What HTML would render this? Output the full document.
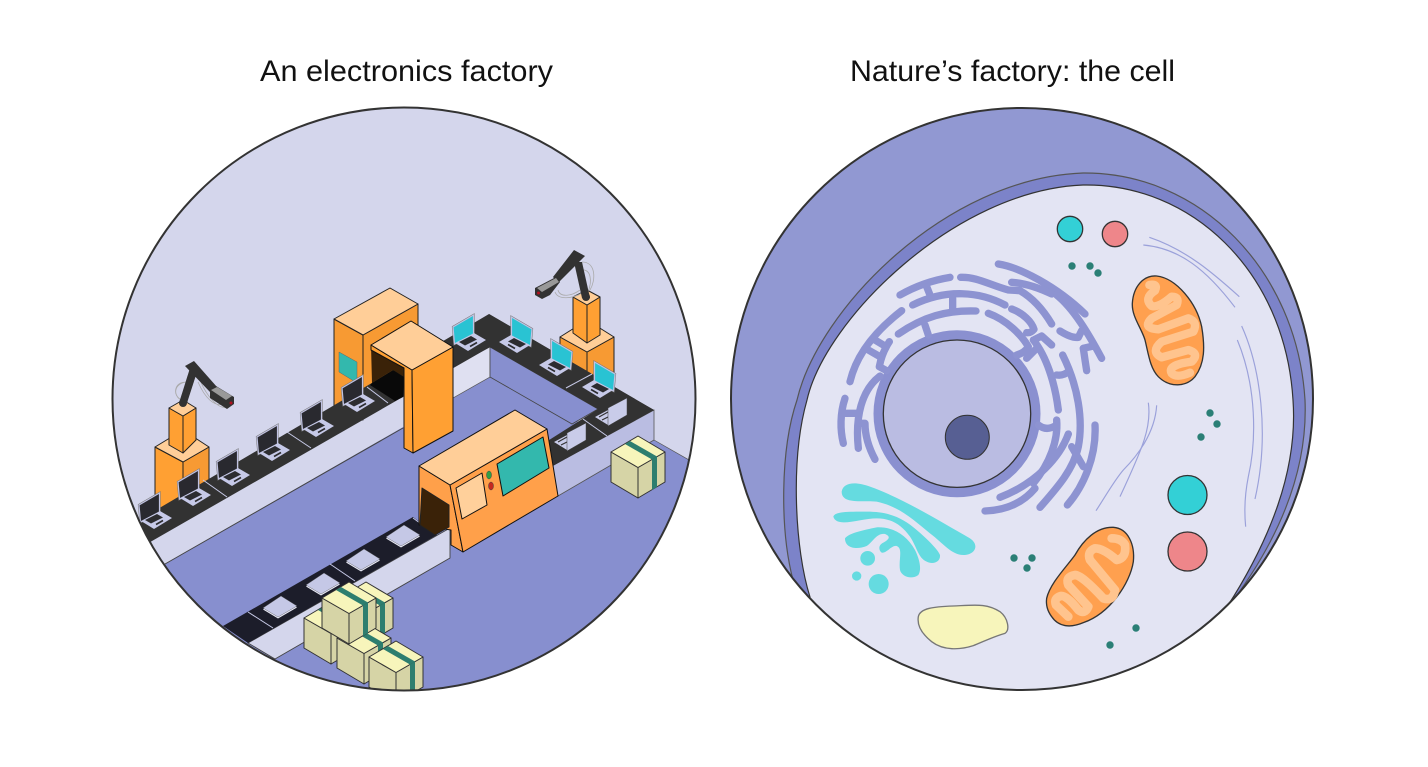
<!DOCTYPE html>
<html><head><meta charset="utf-8"><style>html,body{margin:0;padding:0;background:#fff;width:1428px;height:767px;overflow:hidden}svg{display:block}text{font-family:"Liberation Sans",sans-serif;font-size:30px;fill:#111}</style></head><body>
<svg width="1428" height="767" viewBox="0 0 1428 767" xmlns="http://www.w3.org/2000/svg">
<defs>
<clipPath id="cl"><circle cx="404" cy="399" r="291.5"/></clipPath>
<clipPath id="cr"><circle cx="1022" cy="399" r="291"/></clipPath>
<g id="lap"><polygon points="0,0 20.5,-12 20.5,8 1.5,17" fill="#29292f" stroke="#777" stroke-width="2.200"/><polygon points="0,0 20.5,-12 20.5,8 1.5,17" fill="#29292f" stroke="#c0c2e2" stroke-width="1.200"/><polygon points="2,16 21,6 33,13 15,24" fill="#c6c9e8"/><polygon points="6,15 18,9 24,12.5 12,18.5" fill="#2c2c30"/><line x1="17" y1="19.5" x2="24" y2="15.500" stroke="#2c2c30" stroke-width="1.700"/></g>
<g id="lapt"><polygon points="0,0 20.5,-12 20.5,8 1.5,17" fill="#29c3d3" stroke="#777" stroke-width="2.200"/><polygon points="0,0 20.5,-12 20.5,8 1.5,17" fill="#29c3d3" stroke="#c0c2e2" stroke-width="1.200"/><polygon points="2,16 21,6 33,13 15,24" fill="#c6c9e8"/><polygon points="6,15 18,9 24,12.5 12,18.5" fill="#2c2c30"/><line x1="17" y1="19.5" x2="24" y2="15.500" stroke="#2c2c30" stroke-width="1.700"/></g>
<g id="edge"><polygon points="595,417 608,410 608,425" fill="#c9cce9"/><path d="M599,417l9-5M602,420l6-3" stroke="#333" stroke-width="1.200"/><polygon points="608,408 627,398 627,415 608,426" fill="#c9cce9" stroke="#444" stroke-width=".5"/></g>
<g id="plate"><polygon points="0,1.5 15,10.5 34,-.5 18,-10" fill="#e8e9f6"/><polygon points="0,0 18,-12 34,-2 15,9" fill="#c5c8e6" stroke="#555" stroke-width=".4"/></g>
<g id="box" stroke="#333" stroke-width="1" stroke-linejoin="round"><polygon points="0,0 27,15.5 27,46 0,30" fill="#d6d4a6"/><polygon points="27,15.5 54,0 54,30 27,46" fill="#d6d4a6"/><polygon points="0,0 27,-16 54,0 27,15.5" fill="#f7f5bb"/><polygon points="14,-8 19,-11 46,4.500 41,7.500" fill="#2d7e6f" stroke="none"/><polygon points="41,7.500 46,4.500 46,35 41,38" fill="#2d7e6f" stroke="none"/></g>
</defs>
<rect width="1428" height="767" fill="#fff"/>
<text x="260" y="81" textLength="293" lengthAdjust="spacingAndGlyphs">An electronics factory</text>
<text x="850" y="81" textLength="325" lengthAdjust="spacingAndGlyphs">Nature’s factory: the cell</text>

<!-- LEFT -->
<g clip-path="url(#cl)">
<rect x="100" y="100" width="610" height="600" fill="#d4d6ec"/>
<polygon points="165,564 490,377 560,417 654,440 710,472 710,700 100,700 100,600" fill="#878fcf"/>
<path d="M165,564 L403,428" stroke="#444" stroke-width="1" fill="none"/>
<polygon points="453,366 490,347 490,377 453,398" fill="#dfe0f1" stroke="#555" stroke-width=".7"/>
<polygon points="490,347 598,409 572,424 490,377" fill="#878fcf" stroke="#444" stroke-width=".8"/>
<polygon points="550,467 654,410 654,440 558,496" fill="#babde2" stroke="#555" stroke-width=".8"/>
<line x1="654" y1="440" x2="710" y2="472" stroke="#555" stroke-width=".7"/>

<!-- robot 1 -->
<g stroke="#222" stroke-width="1" stroke-linejoin="round">
<polygon points="155,447 183,462 183,520 155,505" fill="#ffa033"/><polygon points="183,462 209,447 209,490 183,520" fill="#f79a33"/><polygon points="155,447 183,430 209,447 183,462" fill="#ffce98"/>
<polygon points="169,408 183,416 183,453 169,445" fill="#ffa033"/><polygon points="183,416 196,408 196,440 183,453" fill="#ffa033"/><polygon points="169,408 183,400 196,408 183,416" fill="#ffce98"/></g>
<path d="M186,382 C172,384 172,400 188,402 M190,383 C175,378 170,396 183,401 M198,382 C205,398 214,407 224,404 M200,380 C206,395 218,410 227,407" stroke="#aaa" stroke-width=".8" fill="none"/>
<polygon points="179,403 190,368 197,372 187,403" fill="#323232"/><circle cx="183" cy="403" r="4" fill="#323232"/>
<polygon points="185,366 194,361 217,387 210,392" fill="#323232"/>
<polygon points="210,388 216,386 234,397 234,404 227,409 210,398" fill="#323232"/>
<polygon points="211,390 217,387 232,396 226,400" fill="#999"/><circle cx="231" cy="403" r="1.500" fill="#b01020"/>
<!-- robot 2 -->
<g stroke="#222" stroke-width="1" stroke-linejoin="round">
<polygon points="560,337 587,352 587,385 560,370" fill="#f79a33"/><polygon points="587,352 614,337 614,385 587,400" fill="#f79a33"/><polygon points="560,337 587,320 614,337 587,352" fill="#ffce98"/>
<polygon points="573,297 587,305 587,343 573,333" fill="#ffa033"/><polygon points="587,305 600,297 600,335 587,343" fill="#ffa033"/><polygon points="573,297 587,290 600,297 587,305" fill="#ffce98"/></g>
<path d="M582,262 C596,262 596,280 590,290 M580,270 C592,268 592,282 588,292 M558,290 C560,298 572,296 580,290 M555,292 C558,300 572,299 582,293" stroke="#aaa" stroke-width=".8" fill="none"/>
<polygon points="582,298 590,298 582,262 574,262" fill="#323232"/><circle cx="586" cy="297" r="4" fill="#323232"/>
<polygon points="574,250 585,256 558,283 553,277" fill="#323232"/>
<polygon points="535,288 556,277 560,282 550,295 542,299 535,295" fill="#323232"/>
<polygon points="537,288 556,278 559,282 542,292" fill="#999"/><circle cx="538.500" cy="293" r="1.500" fill="#b01020"/>
<!-- gate back -->
<g stroke="#222" stroke-width="1" stroke-linejoin="round">
<polygon points="334,319 363,335 363,420 334,410" fill="#f79a33"/><polygon points="363,335 418,304 418,360 363,400" fill="#f79a33"/><polygon points="334,319 390,288 418,304 363,335" fill="#ffce98"/></g>
<polygon points="339,352 357,362 357,383 339,372" fill="#33b8ad" stroke="#666" stroke-width=".5"/>

<!-- belts -->
<polygon points="100,543 489,314 654,410 550,467 598,409 490,347 152,541 100,571" fill="#323232"/>
<polygon points="654,410 598,409 490,347 489,314" fill="#323232"/>
<polygon points="654,410 551,467 530,480 505,468 598,409" fill="#323232"/>
<polygon points="248,643 450,528 450,558 275,659" fill="#d4d6ec" stroke="#444" stroke-width=".9"/>
<polygon points="223,626 413,517 437,535 248,643" fill="#1c1d2a"/>
<g stroke="#c8cbe8" stroke-width="1" fill="none"><path d="M203,480L227,497M287,432L311,448M367,387L388,403M566,388L592,374M583,419L607,436M413,518L435,534M248,612L273,628M330,564L355,581"/></g>
<use href="#plate" x="263" y="608"/><use href="#plate" x="306" y="585"/><use href="#plate" x="346" y="561"/><use href="#plate" x="386" y="537"/>
<!-- gate tunnel -->
<polygon points="371,345 404,366 404,377 393,370 372,383" fill="#3a2208"/>
<polygon points="372,383 393,370 404,377 403,397 395,401 370,385" fill="#090909"/>
<use href="#lap" x="139" y="505"/><use href="#lap" x="178" y="482"/><use href="#lap" x="217" y="462"/><use href="#lap" x="257" y="437"/><use href="#lap" x="301" y="413"/><use href="#lap" x="342" y="388"/>
<use href="#lapt" x="453" y="327"/>
<use href="#lapt" transform="translate(532,329) scale(-1,1)"/><use href="#lapt" transform="translate(572,352) scale(-1,1)"/><use href="#lapt" transform="translate(615,374) scale(-1,1)"/>
<use href="#edge"/><use href="#edge" x="-41" y="25"/>
<!-- gate front -->
<g stroke="#111" stroke-width="1" stroke-linejoin="round">
<polygon points="371,345 412,370 413,453 404,448 404,368 371,350" fill="#ffa033"/>
<polygon points="412,370 453,347 453,431 413,453" fill="#ffa033"/>
<polygon points="371,345 411,321 453,347 412,370" fill="#ffce98"/></g>
<!-- machine -->
<g stroke="#111" stroke-width="1" stroke-linejoin="round">
<polygon points="419,466 450,485 463,552 451,545 451,530 419,525" fill="#ffa04a"/>
<polygon points="422,488 449,505 449,527 435,535 420,525" fill="#3a2208" stroke="#222"/>
<polygon points="450,485 547,429 558,496 463,552" fill="#ffa04a"/>
<polygon points="419,466 515,410 547,429 450,485" fill="#ffce98"/>
<polygon points="497,464 543,437 549,468 503,496" fill="#33b8ad"/>
<polygon points="456,488 482,473 487,505 462,519" fill="#ffd09b"/></g>
<ellipse cx="489" cy="475" rx="2.500" ry="4" fill="#2f9e45" stroke="#444" stroke-width=".5"/><ellipse cx="491" cy="486" rx="2.500" ry="4" fill="#c6281f" stroke="#444" stroke-width=".5"/>
<!-- boxes -->
<use href="#box" x="611" y="452"/>
<use href="#box" x="339" y="598"/><use href="#box" x="304" y="618"/><use href="#box" x="337" y="638"/><use href="#box" x="322" y="598"/><use href="#box" x="369" y="657"/>
</g>
<circle cx="404" cy="399" r="291.5" fill="none" stroke="#333" stroke-width="2"/>

<!-- RIGHT -->
<g clip-path="url(#cr)">
<rect x="725" y="100" width="600" height="600" fill="#9198d2"/>
<path d="M793,580 C780,530 780,450 797,400 C818,310 945,178 1083,173 C1200,172 1297,270 1305,400 C1308,470 1280,540 1226,610 L1230,700 L800,700 Z" fill="#7c83c9" stroke="#555" stroke-width="1.200"/>
<path d="M810,597 C795,550 790,460 807,400 C825,320 955,190 1083,185 C1190,183 1285,270 1293,400 C1298,470 1270,540 1227,607 L1230,700 L800,700 Z" fill="#e3e4f3" stroke="#333" stroke-width="1.200"/>
</g>
<circle cx="1022" cy="399" r="291" fill="none" stroke="#333" stroke-width="2"/>

<!-- ER -->
<circle cx="957" cy="413.700" r="78.500" fill="none" stroke="#8a90d0" stroke-width="10"/>
<g transform="translate(830,250) scale(.33333)" fill="none" stroke="#8d93d1" stroke-width="22" stroke-linecap="round" stroke-linejoin="round">
<path d="M505,42 C570,52 680,110 765,192"/>
<path d="M392,82 C440,80 480,105 535,120 L570,122 C610,145 640,180 665,222"/>
<path d="M545,97 C590,100 630,115 665,132"/>
<path d="M680,135 C730,175 775,250 815,325"/>
<path d="M210,135 Q280,95 360,82"/>
<path d="M248,165 C350,115 450,125 525,165"/>
<path d="M290,110 L300,135"/>
<path d="M205,252 C280,200 350,180 438,183"/>
<path d="M368,145 L368,180"/>
<path d="M285,225 L295,255"/>
<path d="M475,190 C530,210 575,255 595,290 Q585,308 560,315"/>
<path d="M545,177 C580,190 605,215 612,238 Q602,250 590,248"/>
<path d="M615,268 L635,258 L665,285"/>
<path d="M690,243 Q725,265 745,262 L755,242"/>
<path d="M760,295 Q765,330 770,362"/>
<path d="M760,295 L790,288"/>
<path d="M698,315 C745,410 760,510 745,590 C730,660 680,715 630,772"/>
<path d="M680,375 Q700,378 715,365"/>
<path d="M795,525 C800,620 760,710 712,765"/>
<path d="M725,590 L760,650"/>
<path d="M715,552 C690,620 620,700 510,742"/>
<path d="M465,783 Q560,780 615,715"/>
<path d="M680,510 C685,570 660,640 610,700"/>
<path d="M625,525 Q650,545 680,525"/>
<path d="M610,270 C650,320 675,400 685,480"/>
<path d="M590,325 L620,295"/>
<path d="M215,182 C140,240 80,310 60,395"/>
<path d="M178,275 Q155,310 148,350 L170,362"/>
<path d="M135,270 L160,285"/>
<path d="M115,300 L150,320"/>
<path d="M150,378 C95,420 75,500 85,595"/>
<path d="M45,445 C30,490 30,540 40,580"/>
<path d="M45,490 L80,490"/>
<path d="M92,520 L105,520 C105,560 120,600 135,628"/>
</g>
<circle cx="957" cy="413.700" r="73.700" fill="#babce2" stroke="#333" stroke-width="1.300"/>
<circle cx="967.300" cy="437.300" r="22" fill="#575f93" stroke="#333" stroke-width="1"/>

<!-- Golgi, vacuole, lower mito -->
<g transform="translate(820,470) scale(.33333)">
<g fill="#65dbe0">
<path d="M65,65 C70,35 110,35 150,50 C250,85 370,160 450,205 C480,225 465,255 430,255 C395,255 370,220 330,190 C280,150 240,110 170,95 C130,90 65,105 65,65 Z"/>
<path d="M40,140 C45,125 80,125 140,125 C210,125 250,145 290,180 C320,205 355,240 360,255 C362,275 340,285 320,275 C295,265 290,230 270,200 C245,165 215,145 170,145 C120,145 50,175 40,140 Z"/>
<path d="M75,205 C85,190 130,180 170,172 C220,170 260,195 285,240 C300,270 305,300 295,315 C275,330 245,320 240,300 C235,270 250,235 230,228 C215,225 200,250 185,248 C175,240 175,225 190,218 C205,210 215,200 195,192 C170,188 160,215 140,228 C110,240 75,235 75,205 Z"/>
<circle cx="143" cy="265" r="22"/><circle cx="176" cy="342" r="30"/><circle cx="110" cy="318" r="14"/>
</g>
<path d="M295,440 C300,415 340,410 400,408 C470,405 500,400 540,425 C565,445 570,480 555,490 C520,500 490,515 460,527 C420,540 370,542 335,515 C310,495 290,470 295,440 Z" fill="#f7f5bb" stroke="#777" stroke-width="4"/>
<path d="M680,385 C690,340 740,290 765,255 C790,210 830,170 880,172 C925,175 945,225 940,275 C930,340 870,430 790,458 C750,475 715,470 695,440 C680,420 678,400 680,385 Z" fill="#ffa04f" stroke="#333" stroke-width="4"/>
<path d="M745,440 L708,405 Q700,385 722,378 Q740,375 775,420 Q795,435 805,410 L745,345 Q735,320 765,315 Q785,315 850,385 Q880,395 885,360 L810,270 Q800,245 825,235 Q850,235 890,270 Q920,265 915,225 Q905,205 875,205" fill="none" stroke="#ffc48e" stroke-width="26" stroke-linecap="round" stroke-linejoin="round"/>
</g>
<!-- upper mito + fibres -->
<g transform="translate(1040,200) scale(.33333)">
<path d="M277,310 C280,260 310,225 350,228 C410,235 470,310 485,380 C495,440 495,490 465,530 C440,560 390,565 355,530 C330,505 325,460 315,420 C305,385 275,350 277,310 Z" fill="#ffa04f" stroke="#333" stroke-width="4"/>
<path d="M328,255 Q355,250 345,272 Q310,295 335,318 Q355,325 395,290 Q420,290 410,315 L335,355 Q305,385 355,388 L445,355 Q475,365 460,395 L365,425 Q330,455 365,472 L445,450 Q480,460 455,485 Q380,495 395,520 Q410,535 450,518" fill="none" stroke="#ffc48e" stroke-width="25" stroke-linecap="round" stroke-linejoin="round"/>
<g fill="none" stroke="#9ba1da" stroke-width="3.500">
<path d="M328,112 C440,150 520,220 598,290"/>
<path d="M310,135 C420,145 500,210 585,322"/>
<path d="M605,378 C660,500 690,700 645,897"/>
<path d="M592,420 C650,560 650,720 625,830 C615,880 612,930 617,980"/>
<path d="M325,608 C335,680 310,740 240,890"/>
<path d="M350,616 C345,700 290,770 250,810 C220,845 190,900 168,932"/>
</g>
</g>
<g stroke="#333" stroke-width="1.300">
<circle cx="1070" cy="229" r="12.700" fill="#33d0d6"/><circle cx="1115" cy="234" r="12.700" fill="#ee868a"/>
<circle cx="1187.500" cy="495" r="19.500" fill="#33d0d6"/><circle cx="1187.500" cy="551.500" r="19.500" fill="#ee868a"/>
</g>
<g fill="#2b7f76">
<circle cx="1072" cy="266" r="3.700"/><circle cx="1090" cy="266" r="3.700"/><circle cx="1098" cy="273" r="3.700"/>
<circle cx="1210" cy="413" r="3.700"/><circle cx="1217" cy="424" r="3.700"/><circle cx="1201" cy="437" r="3.700"/>
<circle cx="1014" cy="558" r="3.700"/><circle cx="1032" cy="558" r="3.700"/><circle cx="1027" cy="568" r="3.700"/>
<circle cx="1136" cy="628" r="3.700"/><circle cx="1110" cy="645" r="3.700"/>
</g>
</svg>
</body></html>
